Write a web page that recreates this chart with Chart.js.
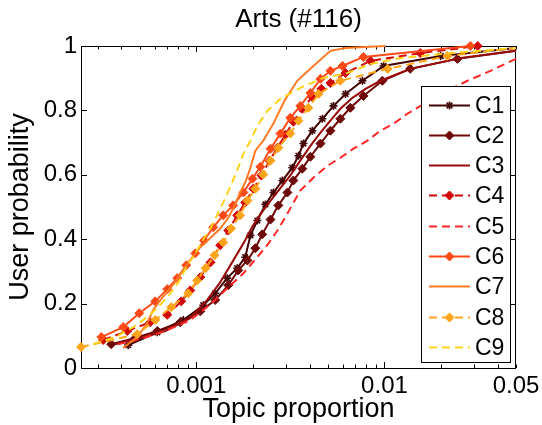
<!DOCTYPE html>
<html><head><meta charset="utf-8">
<script src="https://cdn.jsdelivr.net/npm/chart.js@4/dist/chart.umd.min.js"></script>
<style>html,body{margin:0;padding:0;background:#fff;}canvas{display:block;}</style>
</head><body><canvas id="c" width="542" height="425"></canvas>
<script>
// ---------- data ----------
const seriesNames = ['C1','C2','C3','C4','C5','C6','C7','C8','C9'];

const c1x = [0.000435,0.000621,0.000853,0.00109,0.00126,0.00146,0.00165,0.00182,0.00194,0.00211,0.00233,0.00257,0.00287,0.00324,0.00349,0.00371,0.00414,0.00468,0.00536,0.00621,0.00764,0.00989,0.0199,0.05];
const c1y = [0.071,0.111,0.149,0.195,0.232,0.279,0.310,0.344,0.412,0.458,0.508,0.545,0.582,0.622,0.659,0.697,0.737,0.774,0.814,0.851,0.892,0.938,0.969,0.994];

const c2x = [0.000353,0.000474,0.000621,0.000822,0.00105,0.00126,0.00148,0.00167,0.00187,0.00206,0.00224,0.00248,0.00273,0.00305,0.00328,0.00366,0.00404,0.00457,0.00516,0.00583,0.00659,0.00773,0.00975,0.0137,0.0244,0.05];
const c2y = [0.074,0.093,0.115,0.142,0.176,0.211,0.257,0.303,0.334,0.372,0.415,0.461,0.505,0.545,0.582,0.619,0.656,0.697,0.737,0.774,0.808,0.845,0.892,0.929,0.960,0.985];

const c3x = [0.000371,0.000504,0.000684,0.000929,0.00114,0.00134,0.00155,0.00178,0.00199,0.00219,0.00242,0.00273,0.00316,0.00357,0.00404,0.00457,0.00516,0.00583,0.00676,0.00793,0.00952,0.0137,0.0254,0.05];
const c3y = [0.074,0.093,0.115,0.155,0.211,0.266,0.328,0.387,0.440,0.477,0.511,0.551,0.598,0.644,0.690,0.731,0.768,0.805,0.839,0.867,0.892,0.929,0.963,0.985];

const c4x = [0.000320,0.000430,0.000569,0.000701,0.000832,0.000929,0.00105,0.00119,0.00134,0.00148,0.00165,0.00182,0.00201,0.00222,0.00245,0.00270,0.00297,0.00328,0.00366,0.00414,0.00462,0.00516,0.00621,0.00843,0.0155,0.0313];
const c4y = [0.087,0.115,0.142,0.165,0.207,0.241,0.282,0.328,0.381,0.427,0.474,0.514,0.557,0.598,0.644,0.684,0.724,0.765,0.805,0.842,0.867,0.885,0.916,0.954,0.978,1.0];

const c5x = [0.000385,0.000504,0.000684,0.000929,0.00119,0.00152,0.00178,0.00211,0.00242,0.00270,0.00305,0.00357,0.00419,0.00498,0.00583,0.00684,0.00812,0.00952,0.0112,0.0132,0.0191,0.0276,0.0366,0.05];
const c5y = [0.074,0.090,0.115,0.149,0.198,0.257,0.294,0.344,0.387,0.427,0.480,0.551,0.591,0.628,0.653,0.681,0.706,0.737,0.759,0.789,0.845,0.892,0.923,0.960];

const c6x = [0.000313,0.000409,0.000498,0.000605,0.000701,0.000792,0.000885,0.000988,0.00110,0.00123,0.00139,0.00157,0.00178,0.00199,0.00219,0.00248,0.00280,0.00316,0.00357,0.00404,0.00457,0.00516,0.00598,0.00773,0.0286];
const c6y = [0.096,0.127,0.170,0.207,0.245,0.279,0.319,0.356,0.396,0.437,0.474,0.505,0.545,0.588,0.625,0.681,0.728,0.777,0.814,0.854,0.898,0.923,0.938,0.966,1.0];

const c7x = [0.000409,0.000485,0.000548,0.000590,0.000644,0.000755,0.000896,0.00105,0.00123,0.00134,0.00148,0.00161,0.00171,0.00182,0.00194,0.00206,0.00227,0.00257,0.00294,0.00344,0.00419,0.00516,0.00621,0.0101];
const c7y = [0.062,0.096,0.139,0.180,0.211,0.260,0.322,0.375,0.412,0.433,0.467,0.508,0.545,0.576,0.622,0.675,0.706,0.759,0.830,0.892,0.938,0.985,0.994,1.0];

const c8x = [0.000244,0.000485,0.000605,0.000736,0.000906,0.00101,0.00112,0.00125,0.00139,0.00153,0.00171,0.00187,0.00206,0.00227,0.00248,0.00273,0.00316,0.00349,0.00394,0.00446,0.00583,0.0104,0.0216,0.05];
const c8y = [0.065,0.105,0.149,0.189,0.232,0.272,0.310,0.350,0.390,0.433,0.474,0.520,0.557,0.601,0.644,0.684,0.728,0.768,0.808,0.851,0.892,0.929,0.969,0.994];

const c9x = [0.000283,0.000371,0.000463,0.000548,0.000628,0.000728,0.000802,0.000896,0.000988,0.00108,0.00119,0.00131,0.00143,0.00155,0.00167,0.00178,0.00194,0.00211,0.00239,0.00280,0.00357,0.00474,0.00635,0.00843,0.0122,0.0225,0.05];
const c9y = [0.074,0.096,0.127,0.158,0.189,0.232,0.266,0.319,0.356,0.396,0.433,0.483,0.529,0.576,0.622,0.666,0.706,0.752,0.799,0.836,0.870,0.901,0.916,0.944,0.963,0.978,0.994];

const xTickValues = [0.0003,0.0004,0.0005,0.0006,0.0007,0.0008,0.0009,0.001,0.002,0.003,0.004,0.005,0.006,0.007,0.008,0.009,0.01,0.02,0.03,0.04,0.05];
const xLabelValues = [0.001,0.01,0.05];
const xLabelTexts = ['0.001','0.01','0.05'];
const yTickValues = [0,0.2,0.4,0.6,0.8,1];
const yTickLabels = ['0','0.2','0.4','0.6','0.8','1'];
const xMin = 0.000244, xMax = 0.05;

const titleText = 'Arts (#116)';
const xTitle = 'Topic proportion';
const yTitle = 'User probability';

// ---------- styles ----------
const xs = [c1x,c2x,c3x,c4x,c5x,c6x,c7x,c8x,c9x];
const ys = [c1y,c2y,c3y,c4y,c5y,c6y,c7y,c8y,c9y];
const colors = ['#420404','#6e0707','#980a0a','#d00808','#ff2626','#ff4a18','#ff7a22','#ffa41a','#ffd21a'];
const dashed = [false,false,false,true,true,false,false,true,true];
const markers = ['star','rectRot',null,'rectRot',null,'rectRot',null,'rectRot',null];
const FONT = '"Liberation Sans", Arial, Helvetica, sans-serif';

const datasets = seriesNames.map((name,i)=>{
  const r = markers[i] ? (markers[i]==='star' ? 4 : 4.5) : 0;
  return {
    label: name,
    data: xs[i].map((x,j)=>({x:x, y:ys[i][j]})),
    borderColor: colors[i],
    backgroundColor: colors[i],
    borderWidth: 2,
    borderDash: dashed[i] ? [8,5] : [],
    pointStyle: markers[i] || 'circle',
    legendRadius: r,
    pointRadius: (c) => (c.raw && c.raw.x >= xMax) ? 0 : r,
    pointHoverRadius: 0,
    pointBackgroundColor: colors[i],
    pointBorderColor: colors[i],
    pointBorderWidth: markers[i]==='star' ? 1.6 : 1,
    tension: 0,
    fill: false,
    clip: false,
    order: 8 - i
  };
});

const frameLegendPlugin = {
  id: 'frameLegend',
  beforeDatasetsDraw(chart) {
    const {ctx, chartArea: a, scales} = chart;
    ctx.save();
    ctx.strokeStyle = '#000';
    ctx.lineWidth = 1;
    ctx.strokeRect(Math.round(a.left)+0.5, Math.round(a.top)+0.5, Math.round(a.right-a.left)-1, Math.round(a.bottom-a.top));
    ctx.beginPath();
    const xsScale = scales.x, ysScale = scales.y;
    xTickValues.forEach(v=>{
      const px = Math.round(xsScale.getPixelForValue(v))+0.5;
      const major = (v===0.001 || v===0.01);
      const len = major ? 6 : 3.5;
      ctx.moveTo(px, a.bottom); ctx.lineTo(px, a.bottom-len);
      ctx.moveTo(px, a.top); ctx.lineTo(px, a.top+len);
    });
    yTickValues.forEach(v=>{
      const py = Math.round(ysScale.getPixelForValue(v))+0.5;
      ctx.moveTo(a.left, py); ctx.lineTo(a.left+6, py);
      ctx.moveTo(a.right, py); ctx.lineTo(a.right-6, py);
    });
    ctx.stroke();
    ctx.restore();
  },
  afterDatasetsDraw(chart) {
    const ctx = chart.ctx;
    const L=421, T=86, R=510, B=362;
    ctx.save();
    ctx.fillStyle='#fff'; ctx.fillRect(L,T,R-L,B-T);
    ctx.strokeStyle='#000'; ctx.lineWidth=1; ctx.setLineDash([]);
    ctx.strokeRect(L+0.5,T+0.5,R-L,B-T);
    chart.data.datasets.forEach((ds,i)=>{
      const y = Math.round(104.5 + i*30.3)+0.5;
      ctx.strokeStyle = ds.borderColor; ctx.lineWidth = 2;
      ctx.setLineDash(ds.borderDash || []);
      ctx.beginPath(); ctx.moveTo(429,y); ctx.lineTo(470,y); ctx.stroke();
      ctx.setLineDash([]);
      if (ds.legendRadius > 0) {
        ctx.fillStyle = ds.pointBackgroundColor; ctx.strokeStyle = ds.pointBorderColor;
        ctx.lineWidth = ds.pointBorderWidth;
        Chart.helpers.drawPoint(ctx, {pointStyle: ds.pointStyle, radius: ds.legendRadius, borderWidth: ds.pointBorderWidth, rotation: 0}, 449.5, y);
      }
      ctx.fillStyle = '#000';
      ctx.font = '23px ' + FONT;
      ctx.textBaseline = 'middle'; ctx.textAlign = 'left';
      ctx.fillText(ds.label, 475, y+1);
    });
    ctx.restore();
  }
};

Chart.defaults.font.family = FONT;
Chart.defaults.color = '#000';

new Chart(document.getElementById('c'), {
  type: 'line',
  data: { datasets },
  options: {
    responsive: false,
    devicePixelRatio: 1,
    animation: false,
    layout: { padding: { left: 0, right: 26, top: 0, bottom: 0 } },
    plugins: {
      legend: { display: false },
      tooltip: { enabled: false },
      title: {
        display: true, text: titleText, fullSize: false,
        font: { size: 26, weight: 'normal', lineHeight: 1.2 },
        color: '#000',
        padding: { top: 4.5, bottom: 10.3 }
      }
    },
    scales: {
      x: {
        type: 'logarithmic', min: xMin, max: xMax,
        afterBuildTicks: (s) => { s.ticks = xTickValues.map(v=>({value:v})); },
        afterFit: (s) => { s.height = 57; s.paddingLeft = 0; s.paddingRight = 0; },
        grid: { display: false, drawTicks: false, tickLength: 0 }, border: { display: false },
        ticks: {
          autoSkip: false, maxRotation: 0, minRotation: 0, padding: 4,
          font: { size: 24 }, color: '#000',
          callback: (v) => { const k = xLabelValues.indexOf(v); return k >= 0 ? xLabelTexts[k] : ''; }
        },
        title: { display: true, text: xTitle, font: { size: 27, lineHeight: 1 }, color: '#000', padding: { top: 0, bottom: 1.5 } }
      },
      y: {
        type: 'linear', min: 0, max: 1,
        afterBuildTicks: (s) => { s.ticks = yTickValues.map(v=>({value:v})); },
        afterFit: (s) => { s.width = 81; s.paddingTop = 0; s.paddingBottom = 0; },
        grid: { display: false, drawTicks: false, tickLength: 0 }, border: { display: false },
        ticks: {
          padding: 4, font: { size: 24 }, color: '#000',
          callback: (v) => { const k = yTickValues.indexOf(v); return k >= 0 ? yTickLabels[k] : ''; }
        },
        title: { display: true, text: yTitle, font: { size: 27, lineHeight: 1 }, color: '#000', padding: { top: 7, bottom: 0 } }
      }
    }
  },
  plugins: [frameLegendPlugin]
});
</script>
</body></html>
